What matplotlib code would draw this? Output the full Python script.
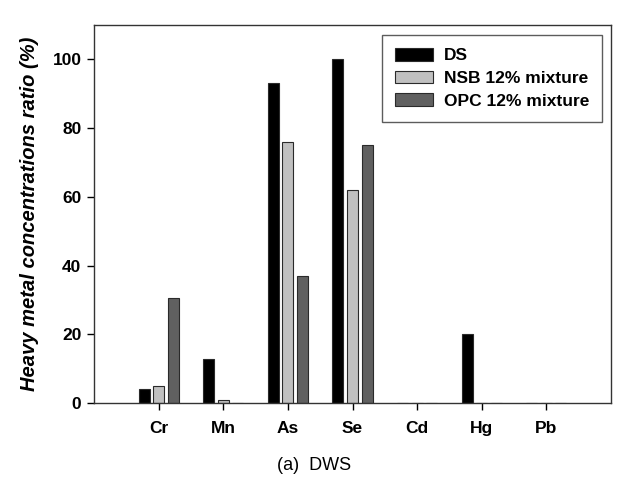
import numpy as np
import matplotlib
matplotlib.use("Agg")
import matplotlib.pyplot as plt

# Heavy metal concentration ratio (%) per element
metals = ["Cr", "Mn", "As", "Se", "Cd", "Hg", "Pb"]
ds = [4.0, 12.7, 93.0, 100.0, 0.0, 20.0, 0.0]
nsb = [5.0, 0.8, 76.0, 62.0, 0.0, 0.0, 0.0]
opc = [30.5, 0.0, 37.0, 75.0, 0.0, 0.0, 0.0]
series_labels = ["DS", "NSB 12% mixture", "OPC 12% mixture"]
yticks = [0, 20, 40, 60, 80, 100]

plt.rcParams["font.family"] = ["Liberation Sans", "DejaVu Sans"]

fig = plt.figure(figsize=(6.21, 4.79), dpi=100)
ax = fig.add_axes([94 / 621, 76 / 479, 517 / 621, 378 / 479])

x = np.arange(1, len(metals) + 1)
width = 0.17
step = 0.225
colors = ["#000000", "#c0c0c0", "#606060"]
for i, (vals, lab, col) in enumerate(zip([ds, nsb, opc], series_labels, colors)):
    ax.bar(x + (i - 1) * step, vals, width, color=col, edgecolor="#2a2a2a",
           linewidth=0.8, label=lab)

ax.set_xlim(0, 8)
ax.set_ylim(0, 110)
ax.set_xticks(x)
ax.set_xticklabels(metals, fontsize=12.5, fontweight="bold")
ax.set_yticks(yticks)
ax.set_yticklabels([str(t) for t in yticks], fontsize=12.5, fontweight="bold")
ax.tick_params(direction="out", length=5, width=1)
ax.tick_params(axis="x", pad=8)
ax.tick_params(axis="y", pad=4)
for s in ax.spines.values():
    s.set_linewidth(1.0)
    s.set_color("#333333")

ax.set_ylabel("Heavy metal concentrations ratio (%)", fontsize=14.5,
              fontweight="bold", fontstyle="italic", labelpad=10)

leg = ax.legend(loc="upper right", bbox_to_anchor=(1 - 9 / 517, 1 - 10 / 378),
                borderaxespad=0, frameon=True, fancybox=False,
                prop={"size": 12.5, "weight": "bold"},
                handlelength=2.2, handleheight=0.75, labelspacing=0.42,
                borderpad=0.75, handletextpad=0.6)
leg.get_frame().set_edgecolor("#333333")
leg.get_frame().set_linewidth(1.0)

fig.text(0.505 * 621, 479 - 465, "(a)  DWS", fontsize=13, ha="center",
         va="center", transform=None)

fig.savefig("out.png", dpi=100)
